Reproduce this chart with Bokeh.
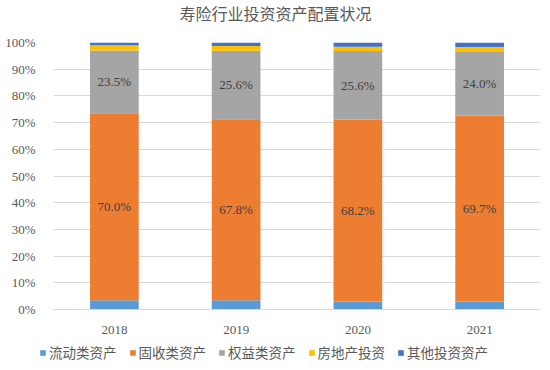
from bokeh.plotting import figure
from bokeh.models import ColumnDataSource, FactorRange, Range1d, FixedTicker, PrintfTickFormatter, LabelSet, Label, Legend, LegendItem
from bokeh.embed import file_html
from bokeh.resources import INLINE

years = ["2018", "2019", "2020", "2021"]
liquid = [3.5, 3.5, 3.0, 3.0]
fixed = [70.0, 67.8, 68.2, 69.7]
equity = [23.5, 25.6, 25.6, 24.0]
realestate = [2.0, 1.8, 1.6, 1.6]
other = [1.0, 1.3, 1.6, 1.7]
names = ["流动类资产", "固收类资产", "权益类资产", "房地产投资", "其他投资资产"]
colors = ["#5B9BD5", "#ED7D31", "#A5A5A5", "#FFC000", "#4472C4"]
title_text = "寿险行业投资资产配置状况"

keys = ["liquid", "fixed", "equity", "realestate", "other"]
data = dict(years=years, liquid=liquid, fixed=fixed, equity=equity, realestate=realestate, other=other)
data["fixed_mid"] = [l + f / 2 for l, f in zip(liquid, fixed)]
data["equity_mid"] = [l + f + e / 2 for l, f, e in zip(liquid, fixed, equity)]
data["fixed_lbl"] = ["%.1f%%" % v for v in fixed]
data["equity_lbl"] = ["%.1f%%" % v for v in equity]
src = ColumnDataSource(data)

# title strip (frame covers the whole strip, 1 data unit = 1 px)
t = figure(width=541, height=34, min_border=0, x_range=Range1d(0, 541), y_range=Range1d(0, 34),
           x_axis_type=None, y_axis_type=None, output_backend="svg", toolbar_location=None,
           outline_line_color=None, background_fill_color="white", border_fill_color="white")
t.grid.visible = False
t.add_layout(Label(x=275, y=21.5, text=title_text, text_align="center", text_baseline="middle",
                   text_font="Noto Sans CJK SC", text_font_size="16px", text_color="#595959"))

p = figure(x_range=FactorRange(*years, range_padding=0), y_range=(0, 100),
           frame_width=487, frame_height=267,
           min_border_left=53, min_border_right=1, min_border_top=8, min_border_bottom=27,
           output_backend="svg", toolbar_location=None, background_fill_color="white",
           border_fill_color="white", outline_line_color=None)

p.vbar_stack(keys, x="years", width=0.4, color=colors, line_color=None, source=src)

serif = "Liberation Serif"
p.yaxis.ticker = FixedTicker(ticks=list(range(0, 101, 10)))
p.yaxis.formatter = PrintfTickFormatter(format="%d%%")
for ax in (p.xaxis[0], p.yaxis[0]):
    ax.major_label_text_font = serif
    ax.major_label_text_font_size = "13px"
    ax.major_label_text_color = "#595959"
    ax.major_tick_line_color = None
    ax.minor_tick_line_color = None
p.yaxis.axis_line_color = None
p.yaxis.major_label_standoff = 12
p.xaxis.axis_line_color = "#D9D9D9"
p.xaxis.major_label_standoff = 10
p.xgrid.grid_line_color = None
p.ygrid.grid_line_color = "#D9D9D9"

for col, lbl in (("fixed_mid", "fixed_lbl"), ("equity_mid", "equity_lbl")):
    p.add_layout(LabelSet(x="years", y=col, text=lbl, source=src, text_align="center",
                          text_baseline="middle", text_font=serif, text_font_size="13px",
                          text_color="#404040"))

# legend strip (separate root; the stacked bars sit outside its visible range)
lg = figure(width=541, height=30, min_border=0, x_range=FactorRange(*years), y_range=Range1d(1000, 1001),
            x_axis_type=None, y_axis_type=None, output_backend="svg", toolbar_location=None,
            outline_line_color=None, background_fill_color="white", border_fill_color="white")
lg.grid.visible = False
rs = lg.vbar_stack(keys, x="years", width=0.4, color=colors, line_color=None, source=src)
legend = Legend(items=[LegendItem(label=n, renderers=[r]) for n, r in zip(names, rs)],
                orientation="horizontal", location=(39, 4), padding=0, margin=0,
                border_line_color=None, background_fill_alpha=0,
                glyph_width=7, glyph_height=7, label_standoff=3, spacing=12,
                label_text_font="Noto Sans CJK SC", label_text_font_size="13.5px",
                label_text_color="#595959")
lg.add_layout(legend, "center")

open("out.html", "w").write(file_html([t, p, lg], INLINE))
